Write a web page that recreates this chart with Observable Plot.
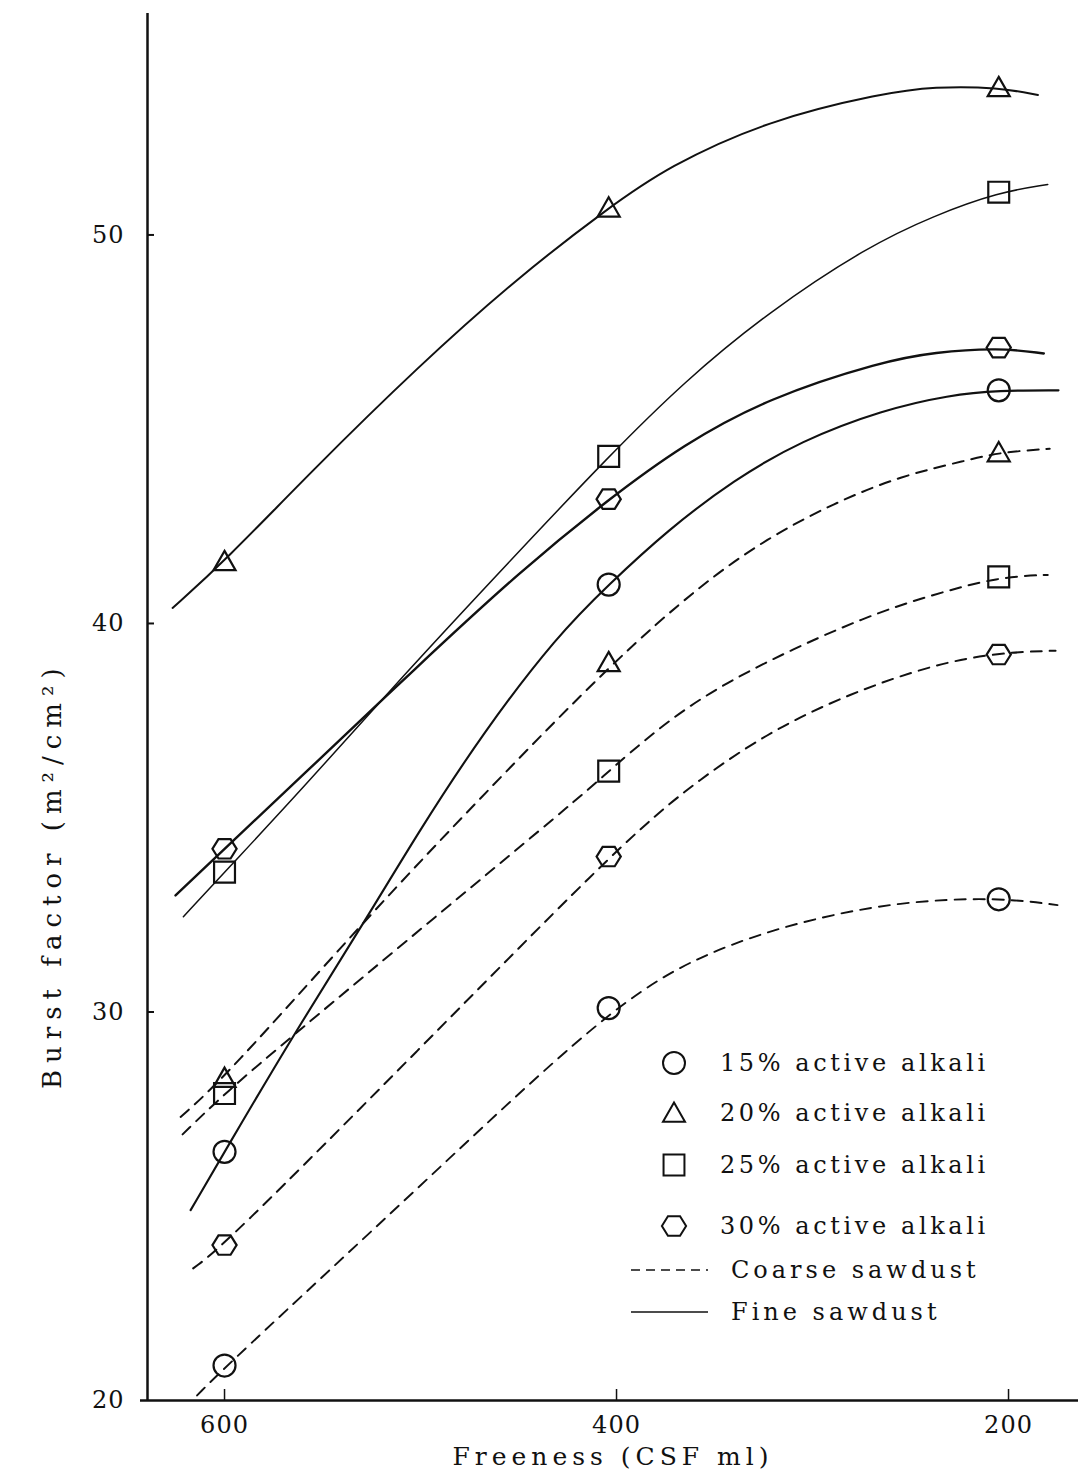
<!DOCTYPE html>
<html>
<head>
<meta charset="utf-8">
<script src="https://cdn.jsdelivr.net/npm/d3@7"></script>
<script src="https://cdn.jsdelivr.net/npm/@observablehq/plot@0.6"></script>
<style>
  html, body { margin: 0; padding: 0; background: #fff; }
  #chart { position: relative; width: 1081px; height: 1474px; font-family: "DejaVu Serif", serif; color: #111; }
  #legend { position: absolute; left: 0; top: 0; pointer-events: none; }
</style>
</head>
<body>
<div id="chart"></div>
<script>
// ---- axes ----
const freenessTicks = [600, 400, 200];
const burstTicks = [20, 30, 40, 50];
const freenessDomain = [639.3, 164.3];
const burstDomain = [20, 55.7];
const xLabel = "Freeness (CSF ml)";
const yLabel = "Burst factor (m²/cm²)";

// ---- legend entries ----
const alkaliLevels = ["15% active alkali", "20% active alkali", "25% active alkali", "30% active alkali"];
const sawdustTypes = ["Coarse sawdust", "Fine sawdust"];

// ---- measured handsheet results (freeness, burst factor) ----
const measuredFreeness = [600, 404, 205];
const fineBurst15 = [26.4, 41.0, 46.0];
const fineBurst20 = [41.6, 50.7, 53.8];
const fineBurst25 = [33.6, 44.3, 51.1];
const fineBurst30 = [34.2, 43.2, 47.1];
const coarseBurst15 = [20.9, 30.1, 32.9];
const coarseBurst20 = [28.3, 39.0, 44.4];
const coarseBurst25 = [27.9, 36.2, 41.2];
const coarseBurst30 = [24.0, 34.0, 39.2];

// ---- faired curves drawn through the measured points [freeness, burst] ----
const fineCurve15 = [[617.3, 24.9], [600, 26.4], [565, 29.4], [527, 32.45], [501.5, 34.6], [468, 37.2], [430, 39.7], [404, 41.0], [374, 42.4], [340, 43.7], [306, 44.7], [264, 45.5], [230, 45.88], [205, 46.0], [174.5, 46.0]];
const fineCurve20 = [[626.5, 40.4], [600, 41.6], [556, 43.9], [501.5, 46.6], [450.5, 48.9], [404, 50.7], [374, 51.75], [323, 52.95], [264, 53.65], [238, 53.82], [205, 53.8], [185, 53.6]];
const fineCurve25 = [[621, 32.45], [600, 33.6], [561, 35.7], [510, 38.6], [449, 41.9], [404, 44.3], [366, 46.2], [323, 48.0], [272, 49.7], [238, 50.5], [205, 51.1], [180, 51.3]];
const fineCurve30 = [[625, 33.0], [600, 34.2], [561, 36.05], [501.5, 38.9], [449, 41.35], [404, 43.2], [366, 44.6], [323, 45.8], [264, 46.75], [238, 46.98], [205, 47.1], [182, 46.95]];
const coarseCurve15 = [[614, 20.13], [600, 20.85], [501.5, 25.45], [404, 30.1], [357, 31.5], [306, 32.35], [255, 32.85], [205, 32.95], [175, 32.75]];
const coarseCurve20 = [[622.4, 27.3], [600, 28.3], [527, 32.45], [464, 35.8], [402, 39.0], [357, 41.0], [323, 42.2], [289, 43.1], [255, 43.8], [221, 44.2], [205, 44.4], [179, 44.5]];
const coarseCurve25 = [[621.4, 26.85], [600, 27.9], [565, 29.4], [490, 32.55], [417, 35.6], [404, 36.2], [366, 37.85], [323, 39.05], [272, 40.2], [238, 40.75], [205, 41.2], [180, 41.25]];
const coarseCurve30 = [[616, 23.4], [600, 24.0], [501.5, 29.0], [404, 34.0], [366, 35.7], [323, 37.2], [281, 38.2], [238, 38.95], [205, 39.25], [176, 39.3]];

// ---- hollow marker shapes (size = π r²) ----
const rOf = size => Math.sqrt(size / Math.PI);
const symCircle = { draw(ctx, size) { const r = rOf(size); ctx.moveTo(r, 0); ctx.arc(0, 0, r, 0, 2 * Math.PI); } };
const symTriangle = { draw(ctx, size) { const r = rOf(size); ctx.moveTo(0, -r * 0.95); ctx.lineTo(r, r * 0.8); ctx.lineTo(-r, r * 0.8); ctx.closePath(); } };
const symSquare = { draw(ctx, size) { const r = rOf(size) * 0.95; ctx.rect(-r, -r, 2 * r, 2 * r); } };
const symHexagon = { draw(ctx, size) { const r = rOf(size) * 1.1, h = r * 0.8; ctx.moveTo(-r, 0); ctx.lineTo(-r / 2, -h); ctx.lineTo(r / 2, -h); ctx.lineTo(r, 0); ctx.lineTo(r / 2, h); ctx.lineTo(-r / 2, h); ctx.closePath(); } };
const alkaliSymbols = [symCircle, symTriangle, symSquare, symHexagon];

const ink = "#111";
const dash = "11,8";

const series = [
  { sawdust: 0, level: 0, burst: coarseBurst15, curve: coarseCurve15, width: 1.9 },
  { sawdust: 0, level: 1, burst: coarseBurst20, curve: coarseCurve20, width: 2.0 },
  { sawdust: 0, level: 2, burst: coarseBurst25, curve: coarseCurve25, width: 2.0 },
  { sawdust: 0, level: 3, burst: coarseBurst30, curve: coarseCurve30, width: 2.0 },
  { sawdust: 1, level: 0, burst: fineBurst15, curve: fineCurve15, width: 2.1 },
  { sawdust: 1, level: 1, burst: fineBurst20, curve: fineCurve20, width: 2.0 },
  { sawdust: 1, level: 2, burst: fineBurst25, curve: fineCurve25, width: 1.5 },
  { sawdust: 1, level: 3, burst: fineBurst30, curve: fineCurve30, width: 2.4 }
];

const W = 1081, H = 1474;
const margin = { top: 13, right: 3, bottom: 74, left: 147 };
const innerW = W - margin.left - margin.right;
const innerH = H - margin.top - margin.bottom;

const curveMarks = series.map(s => Plot.line(s.curve, {
  x: d => d[0], y: d => d[1],
  curve: "basis",
  stroke: ink, strokeWidth: s.width,
  strokeDasharray: s.sawdust === 0 ? dash : null
}));

const pointMarks = series.map(s => Plot.dot(
  measuredFreeness.map((f, i) => ({ freeness: f, burst: s.burst[i] })),
  { x: "freeness", y: "burst", r: 11, symbol: alkaliSymbols[s.level], stroke: ink, strokeWidth: 2.2, fill: "none" }
));

const chart = Plot.plot({
  width: W, height: H,
  marginTop: margin.top, marginRight: margin.right, marginBottom: margin.bottom, marginLeft: margin.left,
  style: { fontFamily: '"DejaVu Serif", serif', fontSize: "24px", color: ink, background: "#fff", overflow: "visible" },
  x: { domain: freenessDomain },
  y: { domain: burstDomain },
  marks: [
    // frame lines
    Plot.ruleY([burstDomain[0]], { insetLeft: -7, stroke: ink, strokeWidth: 2.5 }),
    Plot.ruleX([freenessDomain[0]], { stroke: ink, strokeWidth: 2.5 }),
    // inward tick marks
    Plot.ruleX(freenessTicks, { insetTop: innerH - 11, stroke: ink, strokeWidth: 1.5 }),
    Plot.ruleY(burstTicks.slice(1), { insetRight: innerW - 7, stroke: ink, strokeWidth: 2 }),
    // tick labels
    Plot.axisX({ ticks: freenessTicks, tickSize: 0, tickPadding: 15, fontSize: 24, label: null }),
    Plot.axisY({ ticks: burstTicks, tickSize: 0, tickPadding: 23, fontSize: 24, label: null }),
    ...curveMarks,
    ...pointMarks,
    Plot.text([xLabel], { frameAnchor: "bottom", dy: 64, fontSize: 25, fill: ink }),
    Plot.text([yLabel], { frameAnchor: "left", textAnchor: "start", rotate: -90, dx: -95, dy: 382, fontSize: 26, fill: ink })
  ]
});

document.getElementById("chart").appendChild(chart);

// letter spacing for the typed labels
const svg = d3.select(chart);
svg.selectAll("text").filter(function () { return this.textContent === xLabel; })
  .style("letter-spacing", "5px");
svg.selectAll("text").filter(function () { return this.textContent === yLabel; })
  .style("letter-spacing", "7px");
svg.selectAll('g[aria-label="x-axis tick label"] text, g[aria-label="y-axis tick label"] text')
  .style("letter-spacing", "1px");

// ---- legend ----
const legend = d3.select("#chart").append("svg")
  .attr("id", "legend").attr("width", W).attr("height", H);
const rowY = [1063, 1113, 1165, 1226];
alkaliLevels.forEach((label, i) => {
  legend.append("path")
    .attr("transform", `translate(674,${rowY[i]})`)
    .attr("d", d3.symbol().type(alkaliSymbols[i]).size(Math.PI * 121)())
    .attr("fill", "none").attr("stroke", ink).attr("stroke-width", 2);
  legend.append("text")
    .attr("x", 720).attr("y", rowY[i]).attr("dy", "0.35em")
    .attr("font-family", '"DejaVu Serif", serif').attr("font-size", 24)
    .style("letter-spacing", "3.6px").attr("fill", ink)
    .text(label);
});
const lineY = [1270, 1312];
sawdustTypes.forEach((label, i) => {
  legend.append("line")
    .attr("x1", 631).attr("x2", 708).attr("y1", lineY[i]).attr("y2", lineY[i])
    .attr("stroke", ink).attr("stroke-width", 1.6)
    .attr("stroke-dasharray", i === 0 ? "9,6" : null);
  legend.append("text")
    .attr("x", 731).attr("y", lineY[i]).attr("dy", "0.35em")
    .attr("font-family", '"DejaVu Serif", serif').attr("font-size", 24)
    .style("letter-spacing", "4px").attr("fill", ink)
    .text(label);
});
</script>
</body>
</html>
